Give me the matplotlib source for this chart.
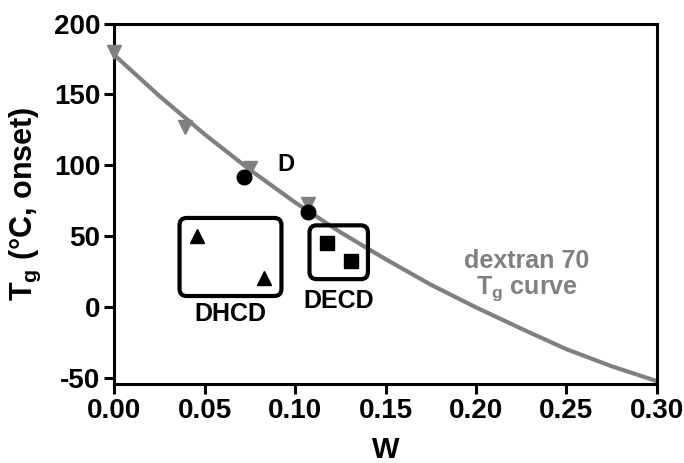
import numpy as np
import matplotlib as mpl

mpl.use('agg')

import matplotlib.pyplot as plt
from matplotlib.patches import FancyBboxPatch

plt.rcParams['font.family'] = ['Liberation Sans', 'DejaVu Sans']
plt.rcParams['font.weight'] = 'bold'
plt.rcParams['axes.unicode_minus'] = False
plt.rcParams['mathtext.fontset'] = 'custom'
plt.rcParams['mathtext.rm'] = 'Liberation Sans:bold'
plt.rcParams['mathtext.bf'] = 'Liberation Sans:bold'
plt.rcParams['mathtext.default'] = 'bf'

# dextran 70 Tg curve
curve_w = [0.0, 0.025, 0.05, 0.075, 0.10, 0.125, 0.15, 0.175, 0.20, 0.225, 0.25, 0.275, 0.30]
curve_tg = [178, 149, 122, 97, 74, 53, 34, 16, 0, -15, -29.5, -41.5, -52]

# dextran 70 measured points (grey down triangles)
dex_w = [0.0, 0.039, 0.075, 0.107]
dex_tg = [180, 127, 98, 72.5]

# D (circles)
d_w = [0.0718, 0.107]
d_tg = [92, 67.5]

# DHCD (triangles)
dhcd_w = [0.0457, 0.083]
dhcd_tg = [50.5, 20.5]

# DECD (squares)
decd_w = [0.1175, 0.1308]
decd_tg = [45.3, 32.4]

xticks = [0.00, 0.05, 0.10, 0.15, 0.20, 0.25, 0.30]
yticks = [-50, 0, 50, 100, 150, 200]

grey = '#808080'

fig = plt.figure(figsize=(6.84, 4.63), dpi=100)
ax = fig.add_axes([0.1667, 0.1706, 0.7938, 0.7786])

ax.plot(curve_w, curve_tg, color=grey, lw=3, zorder=2)
ax.plot(dex_w, dex_tg, 'v', color=grey, ms=10, zorder=3, clip_on=False)
ax.plot(d_w, d_tg, 'o', color='black', ms=10.5, zorder=4)
ax.plot(dhcd_w, dhcd_tg, '^', color='black', ms=10.5, zorder=4)
ax.plot(decd_w, decd_tg, 's', color='black', ms=10.5, zorder=4)

ax.set_xlim(0, 0.30)
ax.set_ylim(-54, 200)

# rounded boxes around the groups
x_per_px = 0.30 / 543
y_per_px = 254 / 361.5
aspect = y_per_px / x_per_px
padx, pady = 0.0095, 12.5
for ws, ts, label, off in [(dhcd_w, dhcd_tg, 'DHCD', 4), (decd_w, decd_tg, 'DECD', 7)]:
    x0, x1 = min(ws) - padx, max(ws) + padx
    y0, y1 = min(ts) - pady, max(ts) + pady
    box = FancyBboxPatch((x0, y0), x1 - x0, y1 - y0,
                         boxstyle='round,pad=0,rounding_size=0.004',
                         mutation_aspect=aspect, fc='none', ec='black',
                         lw=3, zorder=3)
    ax.add_patch(box)
    ax.text((x0 + x1) / 2, y0 - off, label, ha='center', va='top',
            fontsize=18, fontweight='bold')

ax.text(0.095, 101, 'D', ha='center', va='center', fontsize=17, fontweight='bold')
ax.text(0.228, 22, 'dextran 70\nT$_g$ curve', ha='center', va='center',
        fontsize=18, fontweight='bold', color=grey, linespacing=1.05)

ax.set_xticks(xticks)
ax.set_xticklabels(['%.2f' % v for v in xticks])
ax.set_yticks(yticks)
ax.tick_params(axis='both', which='major', direction='out', length=7, width=2.2,
               labelsize=20, pad=3)
for lab in ax.get_xticklabels() + ax.get_yticklabels():
    lab.set_fontweight('bold')
for sp in ax.spines.values():
    sp.set_linewidth(2.2)

ax.set_xlabel('W', fontsize=21, fontweight='bold', labelpad=9)
ax.set_ylabel('T$_g$ (°C, onset)', fontsize=22, fontweight='bold', labelpad=8)

fig.savefig('out.png', dpi=100)
